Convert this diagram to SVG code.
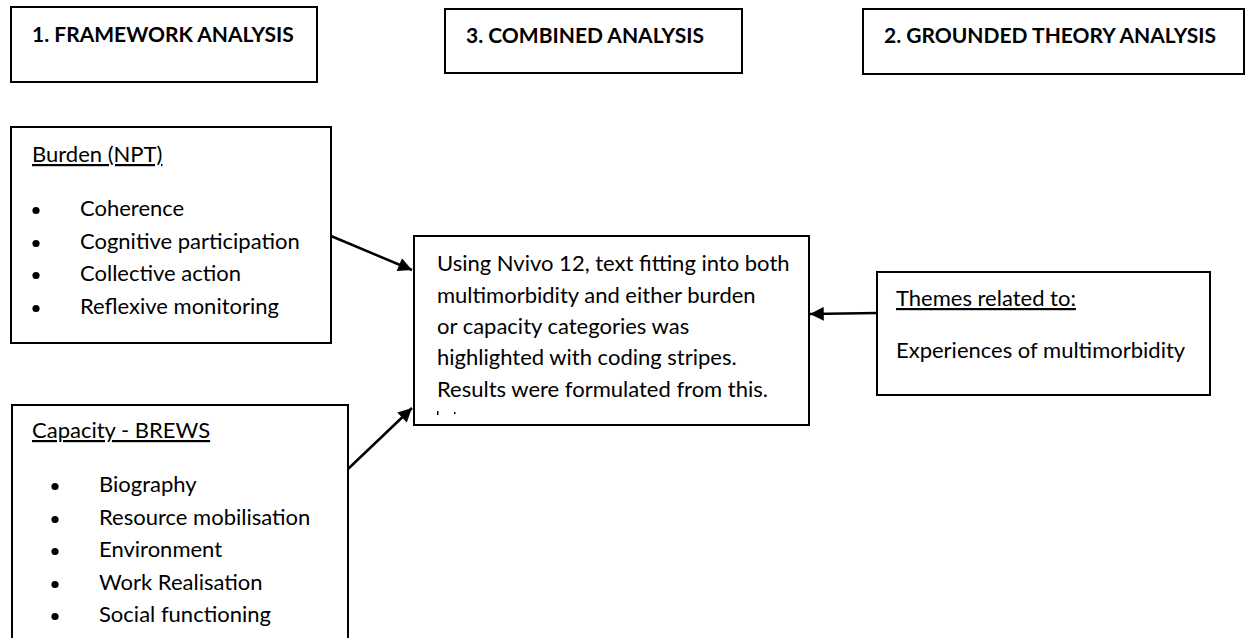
<svg xmlns="http://www.w3.org/2000/svg" width="1247" height="638" viewBox="0 0 1247 638">
<defs>
<style>
.box{fill:#fff;stroke:#000;stroke-width:2}
.t{font-family:Lato,"Open Sans","Liberation Sans",sans-serif;font-size:22px;fill:#000}
.h{font-family:Lato,"Open Sans","Liberation Sans",sans-serif;font-size:21px;font-weight:bold;fill:#000}
.u{text-decoration:underline}
.edge{stroke:#000;stroke-width:2.5;fill:none}
.dot{fill:#000}
</style>
<marker id="ah" viewBox="0 0 10 10" refX="10" refY="5" markerWidth="7" markerHeight="5.5" markerUnits="strokeWidth" orient="auto">
<path d="M0,0 L10,5 L0,10 z" fill="#000"/>
</marker>
</defs>
<rect width="1247" height="638" fill="#fff"/>
<g id="framework">
<rect class="box" x="11" y="7" width="306" height="75"/>
<text class="h" x="32" y="42">1. FRAMEWORK ANALYSIS</text>
</g>
<g id="combined-title">
<rect class="box" x="445" y="9" width="297" height="64"/>
<text class="h" x="466" y="43">3. COMBINED ANALYSIS</text>
</g>
<g id="grounded">
<rect class="box" x="863" y="9" width="381" height="65"/>
<text class="h" x="884" y="43">2. GROUNDED THEORY ANALYSIS</text>
</g>
<g id="burden">
<rect class="box" x="11" y="127" width="320" height="216"/>
<text class="t u" x="32" y="162">Burden (NPT)</text>
<circle class="dot" cx="36" cy="210.5" r="3.6"/>
<text class="t" x="80" y="216">Coherence</text>
<circle class="dot" cx="36" cy="243.5" r="3.6"/>
<text class="t" x="80" y="249">Cognitive participation</text>
<circle class="dot" cx="36" cy="275.5" r="3.6"/>
<text class="t" x="80" y="281">Collective action</text>
<circle class="dot" cx="36" cy="308.5" r="3.6"/>
<text class="t" x="80" y="314">Reflexive monitoring</text>
</g>
<g id="capacity">
<rect class="box" x="12" y="405" width="336" height="250"/>
<text class="t u" x="32" y="438">Capacity - BREWS</text>
<circle class="dot" cx="55" cy="486.5" r="3.6"/>
<text class="t" x="99" y="492">Biography</text>
<circle class="dot" cx="55" cy="519.5" r="3.6"/>
<text class="t" x="99" y="525">Resource mobilisation</text>
<circle class="dot" cx="55" cy="551.5" r="3.6"/>
<text class="t" x="99" y="557">Environment</text>
<circle class="dot" cx="55" cy="584.5" r="3.6"/>
<text class="t" x="99" y="590">Work Realisation</text>
<circle class="dot" cx="55" cy="616.5" r="3.6"/>
<text class="t" x="99" y="622">Social functioning</text>
</g>
<g id="combined">
<rect class="box" x="414" y="236" width="395" height="189"/>
<text class="t" x="437" y="271">Using Nvivo 12, text fitting into both</text>
<text class="t" x="437" y="303">multimorbidity and either burden</text>
<text class="t" x="437" y="334">or capacity categories was</text>
<text class="t" x="437" y="365">highlighted with coding stripes.</text>
<text class="t" x="437" y="397">Results were formulated from this.</text>
<rect x="437" y="411" width="1.5" height="4" fill="#000"/>
<rect x="454" y="412" width="1.5" height="2" fill="#000"/>
</g>
<g id="themes">
<rect class="box" x="877" y="272" width="333" height="123"/>
<text class="t u" x="896" y="306">Themes related to:</text>
<text class="t" x="896" y="358">Experiences of multimorbidity</text>
</g>
<g id="connectors">
<line class="edge" x1="331" y1="236" x2="412" y2="270" marker-end="url(#ah)"/>
<line class="edge" x1="348" y1="469" x2="412" y2="408" marker-end="url(#ah)"/>
<line class="edge" x1="877" y1="313" x2="810" y2="314" marker-end="url(#ah)"/>
</g>
</svg>
